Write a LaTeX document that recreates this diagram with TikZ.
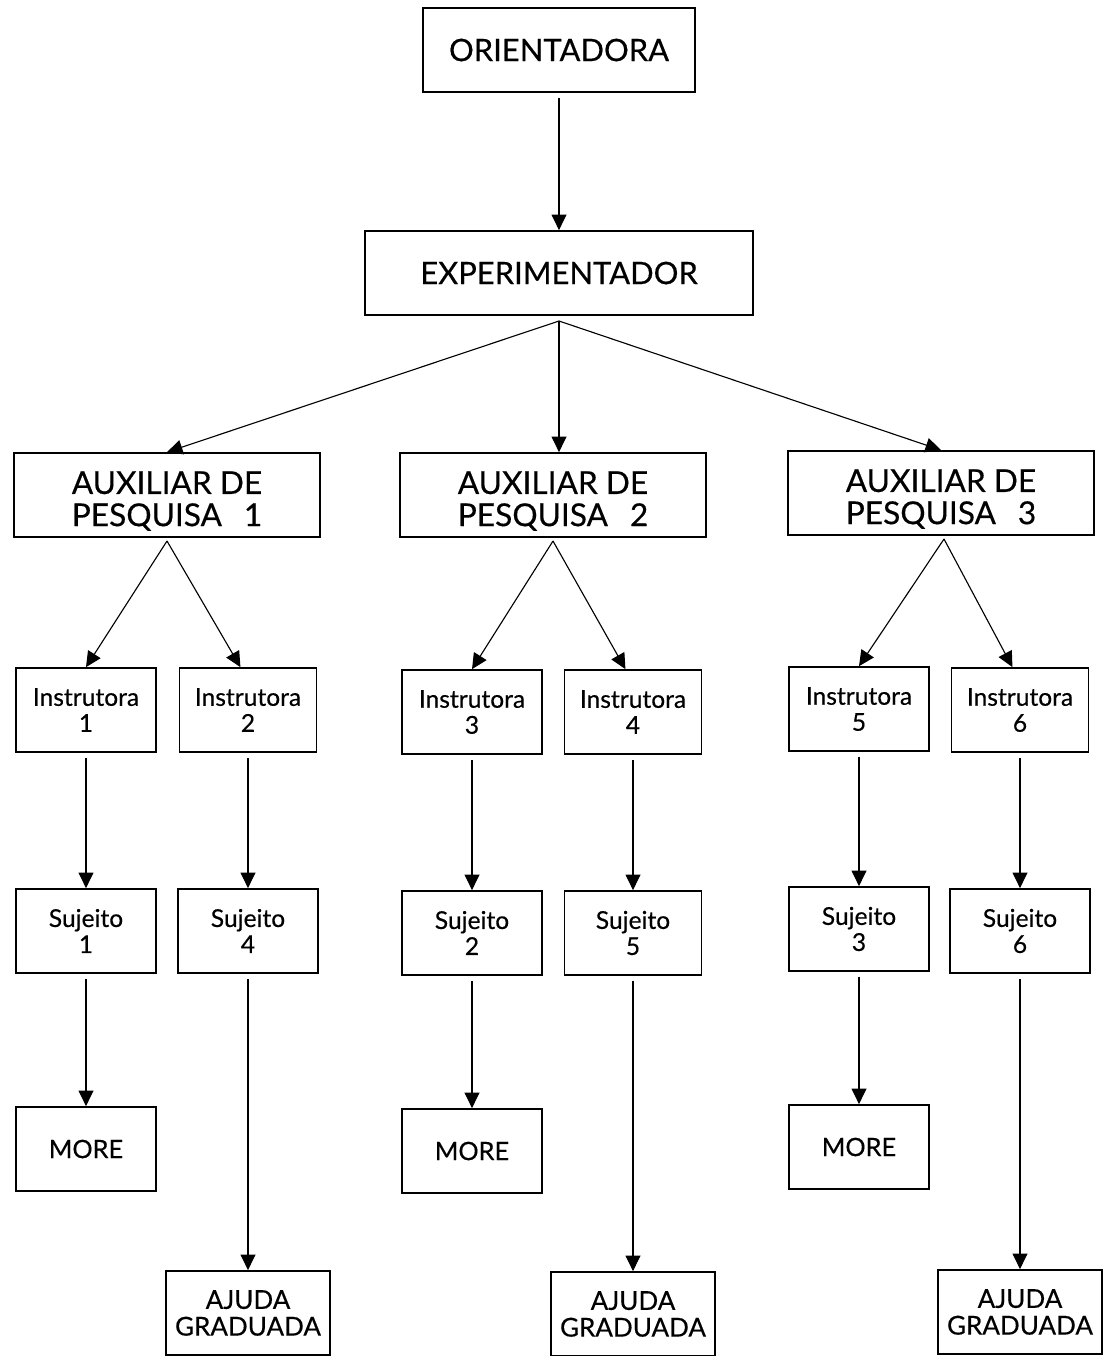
\documentclass[tikz,border=0pt]{standalone}
\usepackage{fontspec}
\setmainfont{Lato}[UprightFeatures={FakeBold=0.4}]
\usetikzlibrary{arrows.meta}
\tikzset{
  bbox/.style={draw,line width=1.2pt,minimum height=2.1cm,inner sep=0pt,align=center,font=\fontsize{22}{25}\selectfont},
  sbox/.style={draw,line width=1.2pt,minimum width=3.5cm,minimum height=2.1cm,inner sep=0pt,align=center,font=\fontsize{17.5}{18.5}\selectfont},
  abox/.style={sbox,minimum width=4.1cm,font=\fontsize{18.5}{19}\selectfont},
  arr/.style={line width=0.8pt,-{Triangle[length=11pt,width=10.5pt]},shorten <=3.5pt}
}
\newcommand{\auxtxt}[1]{\fontsize{22.5}{22}\selectfont\begin{tabular}{@{}l@{}}\rule{0pt}{28pt}AUXILIAR DE\\PESQUISA\hfill #1\end{tabular}}

\begin{document}
\begin{tikzpicture}[x=0.025cm,y=-0.025cm]
  \useasboundingbox (0,0) rectangle (1107,1356);
  \node[bbox,minimum width=6.8cm] (ori) at (559,50) {ORIENTADORA};
  \node[bbox,minimum width=9.7cm] (exp) at (559,273) {EXPERIMENTADOR};
  \node[bbox,minimum width=7.65cm] (aux1) at (167,495) {\auxtxt{1}};
  \node[bbox,minimum width=7.65cm] (aux2) at (553,495) {\auxtxt{2}};
  \node[bbox,minimum width=7.65cm] (aux3) at (941,493) {\auxtxt{3}};
  \coordinate (expb) at (559,321);
  \coordinate (aux1b) at (167,541);
  \coordinate (aux2b) at (553,541);
  \coordinate (aux3b) at (944,539);
  % instrutoras
  \node[sbox] (inst1) at (86,710) {Instrutora\\1};
  \node[sbox,minimum width=3.43cm] (inst2) at (248,710) {Instrutora\\2};
  \node[sbox] (inst3) at (472,712) {Instrutora\\3};
  \node[sbox,minimum width=3.43cm] (inst4) at (633,712) {Instrutora\\4};
  \node[sbox] (inst5) at (859,709) {Instrutora\\5};
  \node[sbox,minimum width=3.43cm] (inst6) at (1020,710) {Instrutora\\6};
  % sujeitos
  \node[sbox] (suj1) at (86,931) {Sujeito\\1};
  \node[sbox] (suj4) at (248,931) {Sujeito\\4};
  \node[sbox] (suj2) at (472,933) {Sujeito\\2};
  \node[sbox,minimum width=3.43cm] (suj5) at (633,933) {Sujeito\\5};
  \node[sbox] (suj3) at (859,929) {Sujeito\\3};
  \node[sbox] (suj6) at (1020,931) {Sujeito\\6};
  % more / ajuda
  \node[sbox,font=\fontsize{18}{19}\selectfont] (more1) at (86,1149) {MORE};
  \node[sbox,font=\fontsize{18}{19}\selectfont] (more2) at (472,1151) {MORE};
  \node[sbox,font=\fontsize{18}{19}\selectfont] (more3) at (859,1147) {MORE};
  \node[abox] (ajd1) at (248,1313) {AJUDA\\GRADUADA};
  \node[abox] (ajd2) at (633,1314) {AJUDA\\GRADUADA};
  \node[abox] (ajd3) at (1020,1312) {AJUDA\\GRADUADA};

  \draw[arr] (ori) -- (exp);
  \draw[arr,shorten <=0pt] (expb) -- (aux1.north);
  \draw[arr,shorten <=0pt] (expb) -- (expb |- aux2.north);
  \draw[arr,shorten <=0pt] (expb) -- (aux3.north);
  \draw[arr,shorten <=0pt] (aux1b) -- (inst1.north);
  \draw[arr,shorten <=0pt] (aux1b) -- (inst2.100);
  \draw[arr,shorten <=0pt] (aux2b) -- (inst3.north);
  \draw[arr,shorten <=0pt] (aux2b) -- (inst4.100);
  \draw[arr,shorten <=0pt] (aux3b) -- (inst5.north);
  \draw[arr,shorten <=0pt] (aux3b) -- (inst6.100);
  \draw[arr] (inst1) -- (suj1);
  \draw[arr] (inst2) -- (suj4);
  \draw[arr] (inst3) -- (suj2);
  \draw[arr] (inst4) -- (suj5);
  \draw[arr] (inst5) -- (suj3);
  \draw[arr] (inst6) -- (suj6);
  \draw[arr] (suj1) -- (more1);
  \draw[arr] (suj2) -- (more2);
  \draw[arr] (suj3) -- (more3);
  \draw[arr] (suj4) -- (ajd1);
  \draw[arr] (suj5) -- (ajd2);
  \draw[arr] (suj6) -- (ajd3);
\end{tikzpicture}
\end{document}
